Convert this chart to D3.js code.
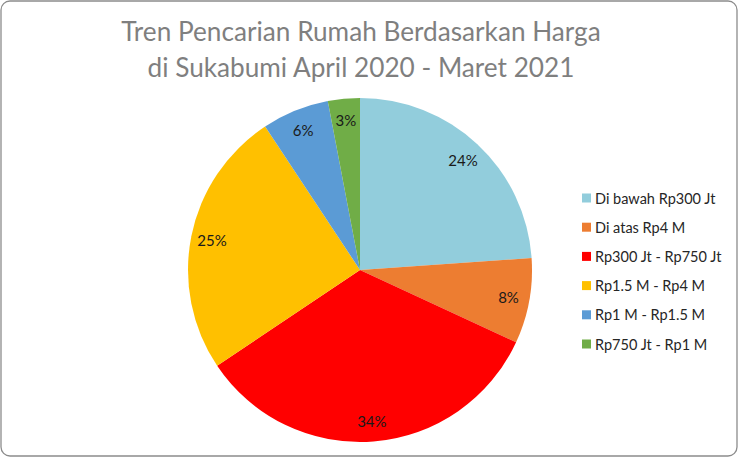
<!DOCTYPE html>
<html>
<head>
<meta charset="utf-8">
<script src="https://cdn.jsdelivr.net/npm/d3@7"></script>
<style>
  html, body { margin: 0; padding: 0; background: #fff; }
  svg { display: block; }
</style>
</head>
<body>
<div id="chart"></div>
<script>
// data
const categories = ["Di bawah Rp300 Jt", "Di atas Rp4 M", "Rp300 Jt - Rp750 Jt", "Rp1.5 M - Rp4 M", "Rp1 M - Rp1.5 M", "Rp750 Jt - Rp1 M"];
const shares = [23.9, 8.0, 33.7, 25.1, 6.3, 3.0];
const sliceColors = ["#92CDDC", "#ED7D31", "#FF0000", "#FFC000", "#5B9BD5", "#70AD47"];
const titleLines = ["Tren Pencarian Rumah Berdasarkan Harga", "di Sukabumi April 2020 - Maret 2021"];

const width = 738, height = 457;
const font = "Lato, 'Open Sans', sans-serif";

const svg = d3.select("#chart").append("svg")
    .attr("width", width)
    .attr("height", height);

// chart frame
svg.append("rect")
    .attr("x", 1).attr("y", 1)
    .attr("width", width - 2).attr("height", height - 2)
    .attr("rx", 9).attr("ry", 9)
    .attr("fill", "#fff")
    .attr("stroke", "#8c8c8c")
    .attr("stroke-width", 1.3);

// title
svg.append("g").selectAll("text")
    .data(titleLines)
    .join("text")
    .attr("x", 361)
    .attr("y", (d, i) => 41 + i * 36)
    .attr("text-anchor", "middle")
    .attr("font-family", font)
    .attr("font-size", 26.2)
    .attr("fill", "#7f7f7f")
    .text(d => d);

// pie
const cx = 360, cy = 270, radius = 172;
const rows = categories.map((c, i) => ({ name: c, value: shares[i], color: sliceColors[i] }));
const total = d3.sum(shares);

const pie = d3.pie().sort(null).value(d => d.value);
const arc = d3.arc().innerRadius(0).outerRadius(radius);
const labelArc = d3.arc().innerRadius(151).outerRadius(151);

const g = svg.append("g").attr("transform", `translate(${cx},${cy})`);
const arcs = pie(rows);

g.selectAll("path")
    .data(arcs)
    .join("path")
    .attr("d", arc)
    .attr("fill", d => d.data.color);

g.selectAll("text")
    .data(arcs)
    .join("text")
    .attr("transform", d => `translate(${labelArc.centroid(d)})`)
    .attr("text-anchor", "middle")
    .attr("dominant-baseline", "central")
    .attr("font-family", font)
    .attr("font-size", 15)
    .attr("fill", "#1a1a1a")
    .text(d => Math.round(d.data.value / total * 100) + "%");

// legend
const legend = svg.append("g").attr("transform", "translate(582,198)");
const item = legend.selectAll("g")
    .data(rows)
    .join("g")
    .attr("transform", (d, i) => `translate(0,${i * 29.2})`);

item.append("rect")
    .attr("x", 0).attr("y", -4.5)
    .attr("width", 9).attr("height", 9)
    .attr("fill", d => d.color);

item.append("text")
    .attr("x", 13)
    .attr("y", 0)
    .attr("dominant-baseline", "central")
    .attr("font-family", font)
    .attr("font-size", 14.5)
    .attr("fill", "#262626")
    .text(d => d.name);
</script>
</body>
</html>
